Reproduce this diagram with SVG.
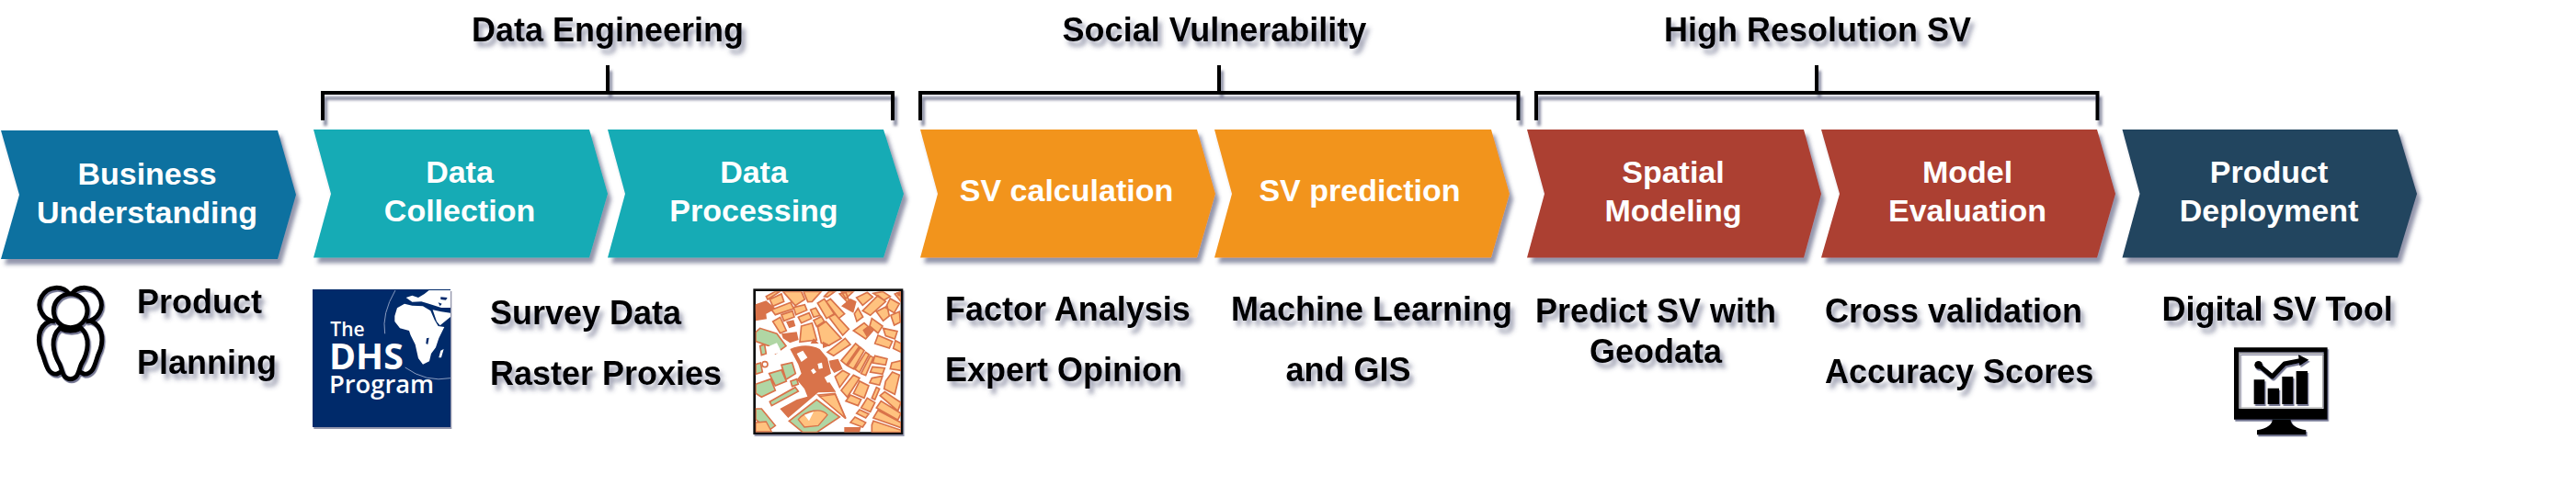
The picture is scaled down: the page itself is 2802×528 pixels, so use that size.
<svg xmlns="http://www.w3.org/2000/svg" width="2802" height="528" viewBox="0 0 2802 528">
<style>
text{font-family:"Liberation Sans",Arial,sans-serif;font-weight:700;font-size:34px}
.w{fill:#fff;text-anchor:middle}
.k{fill:#000;filter:url(#ts);font-size:36px}
.m{text-anchor:middle}
.ch{filter:url(#sh)}
.br{fill:none;stroke:#000;stroke-width:4;filter:url(#bs)}
.b{fill:#FFC27F;stroke:#D9734A;stroke-width:5}
.d{fill:#D9734A}
.g{fill:#B0D6A4;stroke:#D9734A;stroke-width:5}
.dhs{font-family:"Open Sans","Liberation Sans",sans-serif;fill:#fff}
</style>
<defs>
<filter id="sh" x="-5%" y="-5%" width="115%" height="120%"><feDropShadow dx="4" dy="6" stdDeviation="2" flood-color="#3A4166" flood-opacity=".55"/></filter>
<filter id="ic" x="-10%" y="-10%" width="130%" height="130%"><feDropShadow dx="4" dy="6" stdDeviation="2" flood-color="#3A4166" flood-opacity=".7"/></filter>
<filter id="ts" x="-5%" y="-20%" width="115%" height="160%"><feDropShadow dx="4" dy="6" stdDeviation="2.5" flood-color="#3A4166" flood-opacity=".5"/></filter>
<filter id="bs" x="-3%" y="-20%" width="106%" height="160%"><feDropShadow dx="3" dy="6" stdDeviation="1.5" flood-color="#3A4166" flood-opacity=".6"/></filter>
<clipPath id="mc"><rect x="65" y="52" width="475" height="460"/></clipPath>
</defs>

<g id="connectors">
<path class="br" d="M351 131V101H971V131M661 101V71"/>
<path class="br" d="M1001 131V101H1651.500V131M1326 101V71"/>
<path class="br" d="M1671 131V101H2281.500V131M1976 101V71"/>
</g>

<g id="title-data-engineering"><text class="k m" x="661" y="45">Data Engineering</text></g>
<g id="title-social-vulnerability"><text class="k m" x="1321" y="45">Social Vulnerability</text></g>
<g id="title-high-resolution"><text class="k m" x="1977" y="45">High Resolution SV</text></g>

<g id="business-understanding"><path class="ch" fill="#0F71A0" d="M1 142H302L322 212L302 282H1L21 212Z"/>
<text class="w" x="160" y="201">Business</text><text class="w" x="160" y="243">Understanding</text></g>
<g id="data-collection"><path class="ch" fill="#17ABB5" d="M341 141H641L661 211L641 280.500H341L360 211Z"/>
<text class="w" x="500" y="199">Data</text><text class="w" x="500" y="241">Collection</text></g>
<g id="data-processing"><path class="ch" fill="#17ABB5" d="M661 141H961L983 211L961 280.500H661L680 211Z"/>
<text class="w" x="820" y="199">Data</text><text class="w" x="820" y="241">Processing</text></g>
<g id="sv-calculation"><path class="ch" fill="#F2941E" d="M1001 141H1302L1322 211L1302 280.500H1001L1020 211Z"/>
<text class="w" x="1160" y="219">SV calculation</text></g>
<g id="sv-prediction"><path class="ch" fill="#F2941E" d="M1321 141H1622L1642 211L1622 280.500H1321L1340 211Z"/>
<text class="w" x="1479" y="219">SV prediction</text></g>
<g id="spatial-modeling"><path class="ch" fill="#AC3F31" d="M1661 141H1962L1981 211L1962 280.500H1661L1680 211Z"/>
<text class="w" x="1820" y="199">Spatial</text><text class="w" x="1820" y="241">Modeling</text></g>
<g id="model-evaluation"><path class="ch" fill="#AC3F31" d="M1981 141H2281L2301 211L2281 280.500H1981L2001 211Z"/>
<text class="w" x="2140" y="199">Model</text><text class="w" x="2140" y="241">Evaluation</text></g>
<g id="product-deployment"><path class="ch" fill="#24445F" d="M2308.500 141H2608L2629 211L2608 280.500H2308.500L2327.500 211Z"/>
<text class="w" x="2468" y="199">Product</text><text class="w" x="2468" y="241">Deployment</text></g>

<g id="people-icon" transform="translate(0,280) scale(.3333)" filter="url(#ic)" fill="none" stroke="#000" stroke-width="15">
<circle cx="230" cy="175" r="55"/>
<path d="M195 232C165 260 170 310 195 350C205 375 205 397 230 398C255 397 255 375 265 350C290 310 295 260 265 232Q230 250 195 232Z"/>
<path d="M228 122A55 55 0 1 0 180 210M232 122A55 55 0 1 1 280 210"/>
<path d="M165 208C120 225 120 280 140 320C150 350 155 382 185 382L205 372M295 208C340 225 340 280 320 320C310 350 305 382 275 382L255 372"/>
</g>
<g id="product-planning"><text class="k" x="149" y="341">Product</text><text class="k" x="149" y="407">Planning</text></g>

<g id="dhs-logo" transform="translate(320,300) scale(.3333)">
<rect x="60" y="45" width="450" height="450" fill="#03296B" filter="url(#sh)"/>
<path d="M330 48Q285 125 296 190M362 300Q430 350 510 335" fill="none" stroke="#8A9CC0" stroke-width="3"/>
<path fill="#fff" d="M328 132L336 106L360 92L385 98L420 100L445 115L458 145L470 165L490 168L472 205L462 235L447 255L441 280L420 290L405 270L395 225L380 195L375 180L345 172L328 150Z"/>
<path fill="#fff" d="M452 112L480 118L510 122V135L476 163L465 150Z"/>
<path fill="#fff" d="M365 72L385 65L405 72L425 60L440 48L510 48V105L480 105L440 92L415 85L385 86Z"/>
<path fill="#fff" d="M478 245L488 240L480 268L472 268Z"/>
<path fill="#03296B" d="M432 205L440 203L436 225L430 222ZM478 70L500 72L495 80L478 78ZM470 88L476 100L482 92ZM400 48H420L405 55Z"/>
<text class="dhs" x="118" y="197" style="font-size:63px;font-weight:600">The</text>
<text class="dhs" x="114" y="305" style="font-size:118px;font-weight:700">DHS</text>
<text class="dhs" x="114" y="385" style="font-size:82px;font-weight:600">Program</text>
</g>
<g id="survey-raster"><text class="k" x="533" y="353">Survey Data</text><text class="k" x="533" y="419">Raster Proxies</text></g>

<g id="map" transform="translate(800,300) scale(.3333)">
<rect x="62" y="47" width="481" height="468" fill="#fff" stroke="#111" stroke-width="8" filter="url(#sh)"/>
<g clip-path="url(#mc)">
<path class="d" d="M62 95L100 82L132 108L100 125L102 142L66 148Z"/>
<path class="b" d="M100 68L130 52H145L105 78ZM112 78L150 60L158 85L122 100ZM155 52H215L226 78L195 98ZM222 52H280L250 85L236 86ZM290 68L305 52H325L300 70ZM118 112L180 88L190 108L130 128ZM190 104L226 95L233 113L197 128ZM150 128L186 116L192 135L158 148ZM205 136L240 122L248 140L215 155ZM122 150L146 136L166 180L146 188ZM215 165L250 155L265 210L210 217ZM268 168L295 150L345 205L305 228L280 220ZM305 136L325 126L370 175L350 195ZM245 112L262 106L276 130L255 136ZM255 146L280 134L290 150L265 166ZM268 90L290 76L322 125L297 140ZM296 85L310 76L356 125L337 140ZM388 125L400 107L416 135L396 150ZM415 115L465 65L490 85L440 130ZM345 52H385L360 75ZM395 72L430 55L448 70L415 97ZM450 58L480 52L505 68L485 80ZM505 75L535 92L518 122L490 105ZM460 118L495 100L502 132L482 148ZM507 130L535 118L538 152L518 162ZM445 140L480 165L465 188L438 165ZM482 172L528 182L520 207L490 197ZM465 195L512 215L502 237L455 222ZM385 180L420 155L448 180L425 207ZM520 60L540 52V85ZM522 212L540 222V250L515 238ZM378 100L340 60L360 55Z"/>
<path class="d" d="M345 100L375 75L395 85L385 122ZM165 150L190 145L196 165L175 172ZM150 190L200 184L206 210L178 220L155 205ZM255 205L272 222H245ZM285 215L310 228L285 237ZM415 178L432 165L446 182L428 200ZM525 55H540V68L530 66Z"/>
<path class="b" d="M300 250L358 205L375 225L320 262ZM345 278L392 222L404 232L362 292ZM366 295L408 235L420 245L385 305ZM390 306L425 250L436 258L405 316ZM410 320L440 262L450 268L425 326ZM455 262L495 272L490 292L448 285ZM447 298L487 302L480 322L440 315ZM445 335L480 328L470 358L438 350ZM490 345L512 315L535 325L520 388L485 370ZM510 285L540 278V310L505 305ZM325 330L350 310L372 322L340 365ZM345 375L385 325L405 335L365 397ZM385 385L405 345L435 360L420 400ZM360 410L375 390L410 405L400 425ZM410 432L430 400L455 415L440 445ZM445 400L460 365L470 370L455 405ZM472 392L487 380L540 415L530 442ZM460 432L475 410L540 450L530 472ZM450 465L465 440L540 480V497ZM445 488L450 475L540 505V512H445ZM395 450L405 438L435 452L425 465ZM375 480L390 462L425 480L415 495ZM270 390L325 385L360 467Z"/>
<path class="d" d="M178 240Q230 218 275 240L300 270L312 320L295 330L328 380L270 382L172 465L145 435L200 405L235 395L225 370L200 340L215 320L205 290ZM355 495H410L405 512H355ZM305 278L335 272L350 305L322 318L310 300Z"/>
<path fill="#fff" d="M200 255L220 245L235 268L215 282ZM268 288L282 284L285 302L272 305ZM246 310L255 303L264 315L254 322ZM290 332L310 325L320 345L300 350Z"/>
<path class="g" d="M66 355L115 338L130 375L85 397L66 385ZM110 320L150 308L166 345L130 360ZM150 292L185 284L196 320L165 340ZM66 290L82 285L88 315L66 322ZM180 345L200 338L205 355L185 362ZM112 412L195 365L205 378L118 425ZM66 185L80 172L135 190L165 230L130 255L110 230L66 215ZM80 230L95 225L100 255L85 260ZM66 435L85 435L130 490L110 505L66 470ZM175 475L265 405L340 462L265 512H220Z"/>
<path fill="#FFC27F" stroke="#D9734A" stroke-width="4" d="M66 480L100 477L118 510H66ZM205 470C230 440 280 430 300 455L270 490L225 495ZM275 395L325 388L358 465Z"/>
<path fill="#fff" d="M225 455L255 445L240 475ZM100 235L135 220L150 250L115 260Z"/>
<circle cx="96" cy="290" r="9" fill="#fff" stroke="#D9734A" stroke-width="5"/>
</g>
</g>

<g id="factor-expert"><text class="k" x="1028" y="349">Factor Analysis</text><text class="k" x="1028" y="415">Expert Opinion</text></g>
<g id="machine-learning"><text class="k" x="1339" y="349">Machine Learning</text><text class="k m" x="1466.500" y="415">and GIS</text></g>
<g id="predict-sv"><text class="k m" x="1801" y="351">Predict SV with</text><text class="k m" x="1801" y="395">Geodata</text></g>
<g id="cross-accuracy"><text class="k" x="1985" y="351">Cross validation</text><text class="k" x="1985" y="417">Accuracy Scores</text></g>
<g id="digital-tool"><text class="k" x="2351.500" y="349">Digital SV Tool</text></g>

<g id="monitor-icon" transform="translate(2400,360) scale(.3333)" filter="url(#ic)">
<path fill-rule="evenodd" d="M90 55H395V290H90ZM105 70V255H383V70Z"/>
<path d="M108 73H380V252H108Z" fill="none" stroke="#999" stroke-width="3"/>
<path d="M215 290H275Q275 315 325 325V340H165V325Q215 315 215 290Z"/>
<path d="M155 160H190V240H155ZM200 188H237V240H200ZM247 150H283V240H247ZM293 132H330V240H293Z"/>
<path d="M170 112L215 150L255 108L305 98" fill="none" stroke="#000" stroke-width="15" stroke-linejoin="round" stroke-linecap="round"/>
<path d="M300 78L334 95L304 115Z"/>
<circle cx="170" cy="112" r="13"/>
</g>
</svg>
